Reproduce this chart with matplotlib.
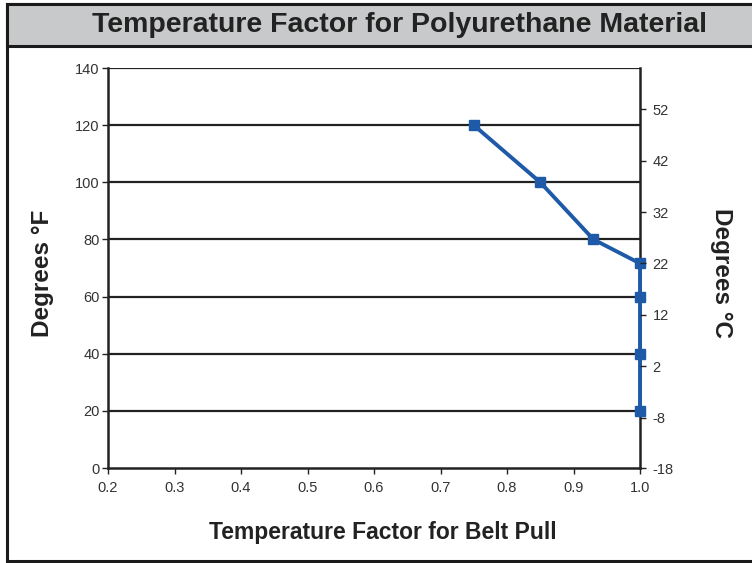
import matplotlib
matplotlib.use("Agg")
import matplotlib.pyplot as plt
from matplotlib.patches import Rectangle

plt.rcParams['font.family'] = ['Liberation Sans', 'DejaVu Sans']
plt.rcParams['axes.unicode_minus'] = False

# Temperature factor curve (factor vs. degrees F)
belt_factor = [0.75, 0.85, 0.93, 1.0, 1.0, 1.0, 1.0]
degrees_f = [120, 100, 80, 71.6, 60, 40, 20]

f_ticks = [0, 20, 40, 60, 80, 100, 120, 140]
c_ticks = [-18, -8, 2, 12, 22, 32, 42, 52]
x_ticks = [0.2, 0.3, 0.4, 0.5, 0.6, 0.7, 0.8, 0.9, 1.0]

W, H = 752, 563
fig = plt.figure(figsize=(W / 100, H / 100), dpi=100)

# outer frame and title bar
frame = Rectangle((7 / W, 2 / H), 1.2, (561 - 4) / H, transform=fig.transFigure,
                  facecolor='white', edgecolor='#1a1a1a', lw=2.2, zorder=0)
fig.add_artist(frame)
bar = Rectangle((7 / W, (563 - 46) / H), 1.2, 42 / H, transform=fig.transFigure,
                facecolor='#c8c9cb', edgecolor='#1a1a1a', lw=2.2, zorder=1)
fig.add_artist(bar)
fig.text(400 / W, (563 - 25) / H, 'Temperature Factor for Polyurethane Material',
         ha='center', va='center', fontsize=20.5, fontweight='bold', color='#222222')

left, right, top, bottom = 108, 640, 68, 468
ax = fig.add_axes([left / W, (H - bottom) / H, (right - left) / W, (bottom - top) / H])
ax.set_xlim(0.2, 1.0)
ax.set_ylim(0, 140)
ax.set_xticks(x_ticks)
ax.set_xticklabels([f'{v:.1f}' for v in x_ticks])
ax.set_yticks(f_ticks)

for y in f_ticks[1:]:
    ax.axhline(y, color='#222222', lw=1.6, zorder=1)

for side in ['left', 'right', 'bottom']:
    ax.spines[side].set_color('#222222')
    ax.spines[side].set_linewidth(1.8)
ax.spines['top'].set_visible(False)

ax.tick_params(axis='both', direction='out', length=4, width=1, colors='#222222',
               labelsize=10.5, labelcolor='#333333')
ax.tick_params(axis='x', pad=5)
ax.tick_params(axis='y', pad=2)

ax.plot(belt_factor, degrees_f, color='#1f5aa8', lw=2.8, marker='s', markersize=7.5,
        markerfacecolor='#1f5aa8', markeredgecolor='#1f5aa8', zorder=5, clip_on=False)

# Celsius scale on the right, placed by converting to Fahrenheit
ax2 = ax.twinx()
ax2.set_ylim(ax.get_ylim())
ax2.set_yticks([max(0.0, c * 1.8 + 32) for c in c_ticks])
ax2.set_yticklabels([str(c) for c in c_ticks])
for side in ['left', 'right', 'bottom', 'top']:
    ax2.spines[side].set_visible(False)
ax2.tick_params(direction='out', length=4, width=1, colors='#222222',
                labelsize=10.5, labelcolor='#333333', pad=5)

fig.text(43 / W, 1 - 273 / H, 'Degrees °F', rotation=90, ha='center', va='center',
         fontsize=17.5, fontweight='bold', color='#222222')
fig.text(722 / W, 1 - 273 / H, 'Degrees °C', rotation=-90, ha='center', va='center',
         fontsize=17.5, fontweight='bold', color='#222222')
fig.text(383 / W, 1 - 532 / H, 'Temperature Factor for Belt Pull', ha='center', va='center',
         fontsize=16.5, fontweight='bold', color='#222222')

fig.savefig('out.png', dpi=100)
